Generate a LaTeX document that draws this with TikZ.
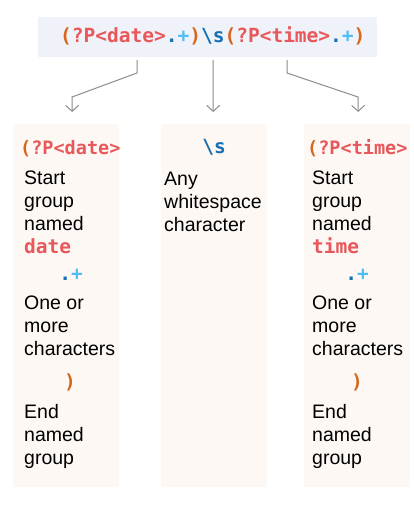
\documentclass[tikz,border=0pt]{standalone}
\usepackage{fontspec}
\setmainfont{Liberation Sans}
\setmonofont{DejaVu Sans Mono}
\usetikzlibrary{arrows.meta,positioning}
\definecolor{rxParen}{RGB}{214,104,30}
\definecolor{rxName}{RGB}{232,88,90}
\definecolor{rxDot}{RGB}{22,112,180}
\definecolor{rxPlus}{RGB}{80,190,240}
\definecolor{topBg}{RGB}{239,242,248}
\definecolor{colBg}{RGB}{254,248,244}
\definecolor{connGray}{RGB}{140,140,140}
\newcommand{\rxOpen}{\textcolor{rxParen}{(}}
\newcommand{\rxClose}{\textcolor{rxParen}{)}}
\newcommand{\rxGrp}[1]{\textcolor{rxName}{?P<#1>}}
\newcommand{\rxAny}{\textcolor{rxDot}{.}\textcolor{rxPlus}{+}}
\newcommand{\rxWs}{\textcolor{rxDot}{\textbackslash s}}

\begin{document}
\begin{tikzpicture}[x=1pt, y=-1pt,
  code/.style={font=\ttfamily\bfseries\fontsize{19.5}{23}\selectfont, inner sep=0pt},
  hdcode/.style={code, font=\ttfamily\bfseries\fontsize{18.5}{23}\selectfont,
                 anchor=base west},
  desc/.style={font=\fontsize{19.5}{23}\selectfont, anchor=base west, inner sep=0pt},
  regexbox/.style={rectangle, fill=topBg, minimum width=339pt, minimum height=40pt,
                   inner sep=0pt},
  colbox/.style={rectangle, fill=colBg, minimum width=106pt, minimum height=363pt,
                 anchor=north west, inner sep=0pt},
  conn/.style={draw=connGray, line width=1pt, -{Straight Barb[length=6pt,width=13pt]}}]
  \useasboundingbox (0,0) rectangle (413,508);

  % the whole pattern
  \node[regexbox] (regex) at (207.5,37) {};
  \node[code, anchor=base west] (regextxt) at (60,43)
    {\rxOpen\rxGrp{date}\rxAny\rxClose\rxWs\rxOpen\rxGrp{time}\rxAny\rxClose};

  % one column per part
  \node[colbox] (colA) at (13,124) {};
  \node[colbox] (colB) at (161,124) {};
  \node[colbox] (colC) at (304,124) {};

  \coordinate (fromDate) at (137,60);
  \coordinate (fromWs) at (213,60);
  \coordinate (fromTime) at (287,60);
  \draw[conn] (fromDate) -- ++(0,13) -- (72,97) -- ([xshift=6pt,yshift=12pt]colA.north);
  \draw[conn] (fromWs) -- ([xshift=-1pt,yshift=12pt]colB.north);
  \draw[conn] (fromTime) -- ++(0,13) -- (358,97) -- ([xshift=1pt,yshift=12pt]colC.north);

  % date group
  \node[hdcode] (hdA) at (20,154) {\rxOpen\rxGrp{date}};
  \foreach \w [count=\i from 0] in {Start,group,named}
    \node[desc] (stA\i) at (24,184+23*\i) {\w};
  \node[code, anchor=base west, text=rxName] (nmA) at (24,253) {date};
  \node[code, anchor=base] (anyA) at (71,280) {\rxAny};
  \foreach \w [count=\i from 0] in {One or,more,characters}
    \node[desc] (moA\i) at (24,309+23*\i) {\w};
  \node[code, anchor=base] (clA) at (70,388) {\rxClose};
  \foreach \w [count=\i from 0] in {End,named,group}
    \node[desc] (enA\i) at (24,418+23*\i) {\w};

  % whitespace
  \node[code, anchor=base] (wsB) at (214,153) {\rxWs};
  \foreach \w [count=\i from 0] in {Any,whitespace,character}
    \node[desc] (anB\i) at (164,185+23*\i) {\w};

  % time group
  \node[hdcode] (hdC) at (307,154) {\rxOpen\rxGrp{time}};
  \foreach \w [count=\i from 0] in {Start,group,named}
    \node[desc] (stC\i) at (312,184+23*\i) {\w};
  \node[code, anchor=base west, text=rxName] (nmC) at (312,253) {time};
  \node[code, anchor=base] (anyC) at (357,280) {\rxAny};
  \foreach \w [count=\i from 0] in {One or,more,characters}
    \node[desc] (moC\i) at (312,309+23*\i) {\w};
  \node[code, anchor=base] (clC) at (357,388) {\rxClose};
  \foreach \w [count=\i from 0] in {End,named,group}
    \node[desc] (enC\i) at (312,418+23*\i) {\w};
\end{tikzpicture}
\end{document}
